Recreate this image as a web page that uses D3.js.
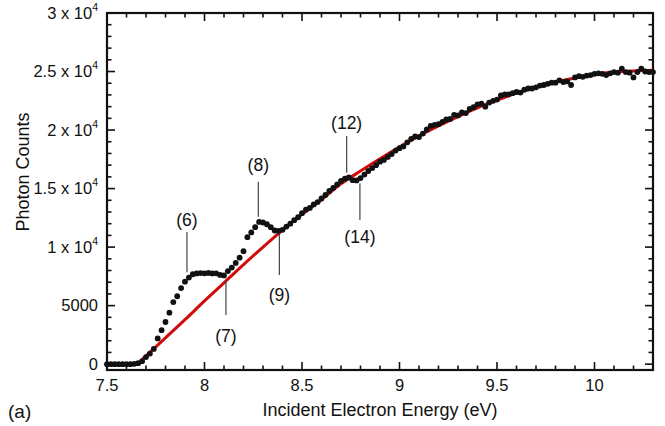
<!DOCTYPE html>
<html><head><meta charset="utf-8">
<script src="https://cdn.jsdelivr.net/npm/d3@7"></script>
<style>body{margin:0;background:#fff}svg{display:block}text{font-family:"Liberation Sans",Arial,sans-serif;fill:#111}</style>
</head><body><svg id="c" width="665" height="426"></svg>
<script>
// measured data (incident energy in eV, photon counts)
const dotEnergy = [7.50,7.52,7.54,7.56,7.58,7.60,7.62,7.64,7.66,7.68,7.70,7.72,7.74,7.76,7.78,7.80,7.82,7.84,7.86,7.88,7.90,7.92,7.94,7.96,7.98,8.00,8.02,8.04,8.06,8.08,8.10,8.12,8.14,8.16,8.18,8.20,8.22,8.24,8.26,8.28,8.30,8.32,8.34,8.36,8.38,8.40,8.42,8.44,8.46,8.48,8.50,8.52,8.54,8.56,8.58,8.60,8.62,8.64,8.66,8.68,8.70,8.72,8.74,8.76,8.78,8.80,8.82,8.84,8.86,8.88,8.90,8.92,8.94,8.96,8.98,9.00,9.02,9.04,9.06,9.08,9.10,9.12,9.14,9.16,9.18,9.20,9.22,9.24,9.26,9.28,9.30,9.32,9.34,9.36,9.38,9.40,9.42,9.44,9.46,9.48,9.50,9.52,9.54,9.56,9.58,9.60,9.62,9.64,9.66,9.68,9.70,9.72,9.74,9.76,9.78,9.80,9.82,9.84,9.86,9.88,9.90,9.92,9.94,9.96,9.98,10.00,10.02,10.04,10.06,10.08,10.10,10.12,10.14,10.16,10.18,10.20,10.22,10.24,10.26,10.28,10.30];
const dotCounts = [0,0,0,0,0,0,0,30,80,250,600,900,1300,2200,2900,3600,4400,5300,5800,6500,7050,7400,7680,7750,7780,7760,7790,7750,7760,7620,7580,7950,8250,8650,9100,9650,10850,11250,11700,12150,12100,11950,11700,11420,11380,11480,11750,12000,12300,12550,12900,13200,13350,13650,13850,14150,14450,14800,15050,15350,15650,15850,15950,15720,15700,15900,16200,16500,16750,17000,17300,17450,17700,17950,18250,18450,18600,18950,19250,19450,19400,19700,20050,20350,20450,20500,20700,20900,20950,21300,21250,21500,21450,21800,21950,22200,22250,22000,22350,22500,22600,22950,23050,23050,23150,23250,23200,23450,23550,23550,23650,23800,23850,23950,24050,24050,24250,24100,24150,23850,24500,24600,24550,24650,24700,24800,24850,24800,24700,24850,24950,24900,25250,24950,24900,24500,24950,25250,25000,24950,24950];
// fitted curve (red)
const fitEnergy = [7.68,7.80,7.90,8.00,8.10,8.20,8.30,8.40,8.50,8.60,8.70,8.80,8.90,9.00,9.10,9.20,9.30,9.40,9.50,9.60,9.70,9.80,9.90,10.00,10.10,10.20,10.30];
const fitCounts = [400,2250,3800,5400,6950,8500,10000,11450,12800,14050,15400,16500,17550,18550,19500,20350,21150,21900,22550,23150,23650,24100,24450,24750,24950,25050,25100];
// annotations: label, energy, line from/to counts, label counts
const annLabels = ["(6)","(7)","(8)","(9)","(12)","(14)"];
const annEnergy = [7.91,8.11,8.276,8.384,8.729,8.797];
const annLineFrom = [11280,7180,15580,11170,19490,15440];
const annLineTo = [7860,4190,12590,7610,16350,12310];
const annLabelAt = [12300,2450,17000,5950,20650,10850];
// axes
const xMajorTicks = [7.5,8,8.5,9,9.5,10];
const xTickLabels = ["7.5","8","8.5","9","9.5","10"];
const yMajorTicks = [0,5000,10000,15000,20000,25000,30000];
const yTickMant = ["0","5000","1","1.5","2","2.5","3"];
const xTitle = "Incident Electron Energy (eV)";
const yTitle = "Photon Counts";
const panelLabel = "(a)";

const svg = d3.select("#c");
const L=107,R=653,T=13,B=370;
const x = d3.scaleLinear().domain([7.5,10.3]).range([L,R]);
const y = d3.scaleLinear().domain([-500,30000]).range([B,T]);

// fit line
svg.append("path").datum(fitEnergy.map((e,i)=>[e,fitCounts[i]]))
  .attr("fill","none").attr("stroke","#d10a0a").attr("stroke-width",3)
  .attr("d",d3.line().x(d=>x(d[0])).y(d=>y(d[1])).curve(d3.curveMonotoneX));
// dots
svg.append("g").selectAll("circle").data(dotEnergy.map((e,i)=>[e,dotCounts[i]])).join("circle")
  .attr("cx",d=>x(d[0])).attr("cy",d=>y(d[1])).attr("r",2.9).attr("fill","#111");

// annotations
const ann = svg.append("g");
annLabels.forEach((t,i)=>{
  ann.append("line").attr("x1",x(annEnergy[i])).attr("x2",x(annEnergy[i]))
    .attr("y1",y(annLineFrom[i])).attr("y2",y(annLineTo[i])).attr("stroke","#444").attr("stroke-width",1.2);
  ann.append("text").attr("x",x(annEnergy[i])).attr("y",y(annLabelAt[i])).attr("dy","0.35em")
    .attr("text-anchor","middle").attr("font-size",17.5).text(t);
});

// axes with inward ticks on all four sides
const xMinor = d3.range(0,29).map(i=>+(7.5+i*0.1).toFixed(2));
const yMinor = d3.range(0,31).map(i=>i*1000);
const ax = svg.append("g").attr("stroke","#111");
function isMajX(v){return xMajorTicks.some(m=>Math.abs(m-v)<1e-6);}
function isMajY(v){return yMajorTicks.includes(v);}
xMinor.forEach(v=>{
  const len = isMajX(v)?8:4.5;
  ax.append("line").attr("x1",x(v)).attr("x2",x(v)).attr("y1",B).attr("y2",B-len).attr("stroke-width",1.6);
  ax.append("line").attr("x1",x(v)).attr("x2",x(v)).attr("y1",T).attr("y2",T+len).attr("stroke-width",1.6);
});
yMinor.forEach(v=>{
  const len = isMajY(v)?8:4.5;
  ax.append("line").attr("y1",y(v)).attr("y2",y(v)).attr("x1",L).attr("x2",L+len).attr("stroke-width",1.6);
  ax.append("line").attr("y1",y(v)).attr("y2",y(v)).attr("x1",R).attr("x2",R-len).attr("stroke-width",1.6);
});
svg.append("rect").attr("x",L).attr("y",T).attr("width",R-L).attr("height",B-T)
  .attr("fill","none").attr("stroke","#111").attr("stroke-width",2.2);

// tick labels
xMajorTicks.forEach((v,i)=>{
  svg.append("text").attr("x",x(v)).attr("y",B+21).attr("text-anchor","middle").attr("font-size",16.5).text(xTickLabels[i]);
});
yMajorTicks.forEach((v,i)=>{
  const t = svg.append("text").attr("x",L-9).attr("y",y(v)).attr("dy","0.35em").attr("text-anchor","end").attr("font-size",16.5);
  if(v<10000){ t.text(yTickMant[i]); }
  else {
    t.append("tspan").text(yTickMant[i]+" x 10");
    t.append("tspan").attr("font-size",10.5).attr("dy","-0.75em").text("4");
  }
});
svg.append("text").attr("x",(L+R)/2).attr("y",B+46).attr("text-anchor","middle").attr("font-size",18).text(xTitle);
svg.append("text").attr("transform",`translate(29,172) rotate(-90)`).attr("text-anchor","middle").attr("font-size",18).text(yTitle);
svg.append("text").attr("x",8).attr("y",B+48).attr("font-size",19).text(panelLabel);
</script></body></html>
